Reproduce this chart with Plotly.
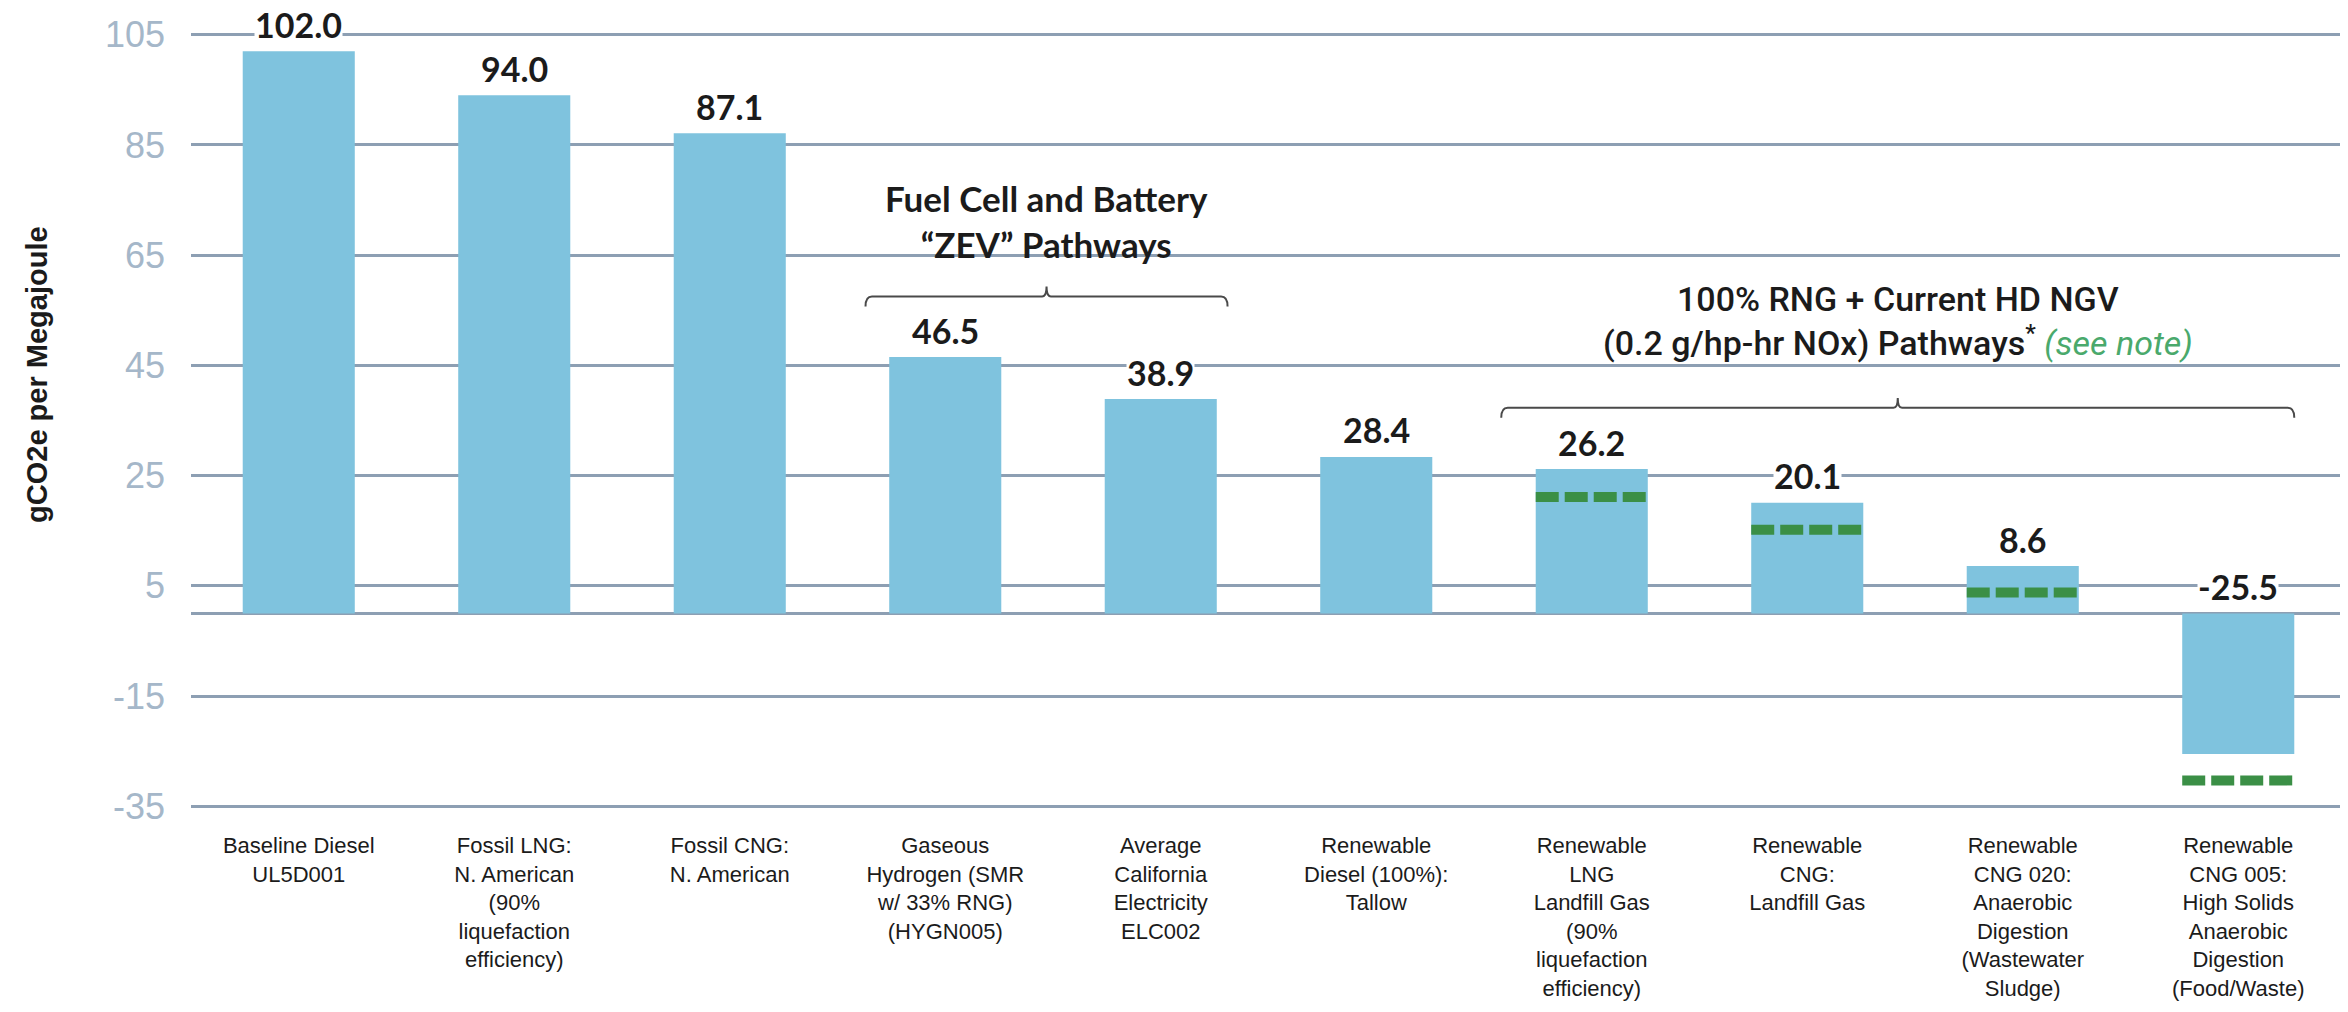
import plotly.graph_objects as go

# ---------------- data ----------------
categories = [
    "Baseline Diesel<br>UL5D001",
    "Fossil LNG:<br>N. American<br>(90%<br>liquefaction<br>efficiency)",
    "Fossil CNG:<br>N. American",
    "Gaseous<br>Hydrogen (SMR<br>w/ 33% RNG)<br>(HYGN005)",
    "Average<br>California<br>Electricity<br>ELC002",
    "Renewable<br>Diesel (100%):<br>Tallow",
    "Renewable<br>LNG<br>Landfill Gas<br>(90%<br>liquefaction<br>efficiency)",
    "Renewable<br>CNG:<br>Landfill Gas",
    "Renewable<br>CNG 020:<br>Anaerobic<br>Digestion<br>(Wastewater<br>Sludge)",
    "Renewable<br>CNG 005:<br>High Solids<br>Anaerobic<br>Digestion<br>(Food/Waste)",
]
values = [102.0, 94.0, 87.1, 46.5, 38.9, 28.4, 26.2, 20.1, 8.6, -25.5]
value_labels = ["102.0", "94.0", "87.1", "46.5", "38.9", "28.4", "26.2", "20.1", "8.6", "-25.5"]

# green dashed markers (low-NOx engine variant) for the RNG pathways
low_nox_index = [6, 7, 8, 9]
low_nox_values = [21.1, 15.2, 3.8, -30.3]

y_ticks = [-35, -15, 5, 25, 45, 65, 85, 105]
y_tick_text = ["-35", "-15", "5", "25", "45", "65", "85", "105"]

# bracket groups: (first index, last index, left pad, right pad, bracket level)
zev_group = (3, 4, 0.37, 0.31, 57.5)
rng_group = (6, 9, 0.42, 0.26, 37.3)

# ---------------- style ----------------
BAR = "#7fc3de"
GRID = "#8d9fb3"
TICK = "#a5b7c9"
DARK = "#1b1b1b"
GREEN = "#3b8f46"
NARROW = "Liberation Sans Narrow, Arial Narrow, Liberation Sans, sans-serif"
BOLDF = "Lato, Liberation Sans, sans-serif"
BAR_W = 0.52

x = list(range(len(categories)))

fig = go.Figure()
fig.add_trace(go.Bar(x=x, y=values, width=BAR_W, marker=dict(color=BAR, line=dict(width=0)),
                     hoverinfo="skip", showlegend=False))

for i, v in zip(low_nox_index, low_nox_values):
    fig.add_trace(go.Scatter(x=[i - BAR_W / 2, i + BAR_W / 2], y=[v, v], mode="lines",
                             line=dict(color=GREEN, width=10, dash="23px,6px"),
                             hoverinfo="skip", showlegend=False))

annotations = []
for i, (v, t) in enumerate(zip(values, value_labels)):
    annotations.append(dict(x=i, y=max(v, 0), xref="x", yref="y", text="<b>" + t + "</b>",
                            showarrow=False, yanchor="middle", yshift=27,
                            font=dict(family=BOLDF, size=34, color=DARK),
                            bgcolor="white", borderpad=0))


def bracket(group):
    a, b, lp, rp, yl = group
    x0, x1 = a - lp, b + rp
    xm = (x0 + x1) / 2
    d = 1.8
    path = (f"M {x0},{yl - d} Q {x0},{yl} {x0 + 0.03},{yl} L {xm - 0.02},{yl} "
            f"Q {xm},{yl} {xm},{yl + d} Q {xm},{yl} {xm + 0.02},{yl} "
            f"L {x1 - 0.03},{yl} Q {x1},{yl} {x1},{yl - d}")
    return dict(type="path", xref="x", yref="y", path=path,
                line=dict(color="#4a4a4a", width=2)), xm


s1, xm1 = bracket(zev_group)
s2, xm2 = bracket(rng_group)

annotations.append(dict(x=xm1, y=71.2, xref="x", yref="y",
                        text="<b>Fuel Cell and Battery<br>\u201cZEV\u201d Pathways</b>",
                        showarrow=False, font=dict(family=BOLDF, size=35, color=DARK)))
annotations.append(dict(x=xm2, y=53.0, xref="x", yref="y",
                        text=("100% RNG + Current HD NGV<br>(0.2 g/hp-hr NOx) Pathways"
                              "<sup>*</sup> <i><span style='color:#4aa96c;font-weight:400'>(see note)</span></i>"),
                        showarrow=False,
                        font=dict(family="Roboto, Liberation Sans, sans-serif", size=34,
                                  color=DARK, weight=500)))

annotations.append(dict(x=-0.0715, y=0.56, xref="paper", yref="paper", xanchor="center", yanchor="middle",
                        text="<b>gCO2e per Megajoule</b>",
                        textangle=-90, showarrow=False, font=dict(family=NARROW, size=29, color=DARK)))

fig.update_layout(
    width=2348, height=1012,
    margin=dict(l=183, r=10, t=25, b=212),
    plot_bgcolor="white", paper_bgcolor="white",
    shapes=[s1, s2],
    annotations=annotations,
)
fig.update_xaxes(range=[-0.5, len(categories) - 0.5], tickmode="array", tickvals=x, ticktext=categories,
                 showgrid=False, zeroline=False, showline=False, ticks="", automargin=False,
                 tickfont=dict(family=NARROW, size=22, color=DARK), ticklabelstandoff=22)
fig.update_yaxes(range=[-35.3, 105.3], tickmode="array", tickvals=y_ticks, ticktext=y_tick_text,
                 showgrid=True, gridcolor=GRID, gridwidth=2.5, automargin=False,
                 zeroline=True, zerolinecolor=GRID, zerolinewidth=2.5, showline=False,
                 tickfont=dict(family=NARROW, size=36, color=TICK), ticklabelstandoff=25)

fig.write_html("out.html")
